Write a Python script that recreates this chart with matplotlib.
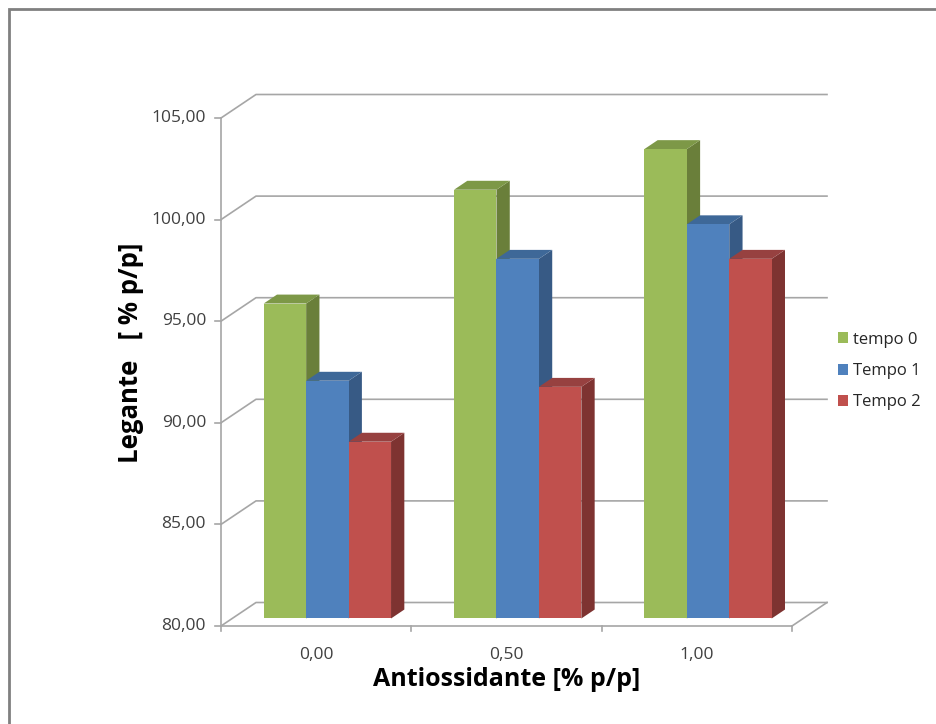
import numpy as np
import matplotlib.pyplot as plt
from matplotlib.patches import Polygon, Rectangle, Patch

plt.rcParams['font.family'] = ['Open Sans', 'DejaVu Sans']

# data
categories = ['0,00', '0,50', '1,00']
series_names = ['tempo 0', 'Tempo 1', 'Tempo 2']
tempo0 = [95.5, 101.1, 103.1]
tempo1 = [91.7, 97.7, 99.4]
tempo2 = [88.7, 91.4, 97.7]
y_ticks = [80, 85, 90, 95, 100, 105]

front = ['#9BBB59', '#4F81BD', '#C0504D']
top_c = ['#7D9847', '#3E6898', '#974140']
side_c = ['#6A7F3A', '#375A85', '#7E3331']
grid_c = '#A6A6A6'

W, H = 936, 724
fig = plt.figure(figsize=(W / 100, H / 100), dpi=100)
ax = fig.add_axes([0, 0, 1, 1])

# pixel layout of the front plane
x0_px, x3_px = 221, 792
y80_px, y105_px = H - 626, H - 118
sx = (x3_px - x0_px) / 3.0
sy = (y105_px - y80_px) / 25.0
ax.set_xlim(-x0_px / sx, (W - x0_px) / sx)
ax.set_ylim(80 - y80_px / sy, 80 + (H - y80_px) / sy)
ax.axis('off')

# oblique depth offset of the back wall (data units)
DX = 35 / sx
DY = 23.5 / sy
ymin = 80
n = len(categories)


def proj(x, v, d):
    return (x + d * DX, v + d * DY)


# back wall gridlines + left side wall
for v in y_ticks:
    ax.plot([0, DX, n + DX], [v, v + DY, v + DY], color=grid_c, lw=1.2, zorder=1)
# floor
ax.plot([0, n], [ymin, ymin], color=grid_c, lw=1.2, zorder=1)
ax.plot([n, n + DX], [ymin, ymin + DY], color=grid_c, lw=1.2, zorder=1)
# value axis
ax.plot([0, 0], [ymin, y_ticks[-1]], color=grid_c, lw=1.2, zorder=1)
for v in y_ticks:
    ax.plot([-6 / sx, 0], [v, v], color=grid_c, lw=1.2, zorder=1)
    ax.text(-15 / sx, v, f'{v:.2f}'.replace('.', ','), ha='right', va='center',
            fontsize=12.5, color='#404040')
for i in range(n + 1):
    ax.plot([i, i], [ymin, ymin - 5 / sy], color=grid_c, lw=1.2, zorder=1)
for i, c in enumerate(categories):
    ax.text(i + 0.5, ymin - 29 / sy, c, ha='center', va='center',
            fontsize=12.5, color='#404040')

# 3d bars
bar_w = 0.223
d0, d1 = 0.32, 0.70
series = [tempo0, tempo1, tempo2]
for i in range(n):
    left = i + 0.5 - 1.5 * bar_w
    for k, vals in enumerate(series):
        xl = left + k * bar_w
        xr = xl + bar_w
        v = vals[i]
        fr = [proj(xl, ymin, d0), proj(xr, ymin, d0), proj(xr, v, d0), proj(xl, v, d0)]
        tp = [proj(xl, v, d0), proj(xr, v, d0), proj(xr, v, d1), proj(xl, v, d1)]
        sd = [proj(xr, ymin, d0), proj(xr, ymin, d1), proj(xr, v, d1), proj(xr, v, d0)]
        z = 2 + k
        ax.add_patch(Polygon(sd, closed=True, fc=side_c[k], ec='none', zorder=z))
        ax.add_patch(Polygon(tp, closed=True, fc=top_c[k], ec='none', zorder=z))
        ax.add_patch(Polygon(fr, closed=True, fc=front[k], ec='none', zorder=z))

# legend
handles = [Patch(fc=front[k], ec='none', label=series_names[k]) for k in range(3)]
leg = ax.legend(handles=handles, loc='center left', bbox_to_anchor=(831 / W, 1 - 371 / H),
                bbox_transform=fig.transFigure, frameon=False, fontsize=12,
                handlelength=0.62, handleheight=0.62, handletextpad=0.3,
                labelspacing=0.92, borderaxespad=0)
for t in leg.get_texts():
    t.set_color('#262626')

# axis titles
fig.text(130 / W, 1 - 353 / H, 'Legante   [ % p/p]', rotation=90, ha='center',
         va='center', fontsize=18.5, fontweight='bold', color='black')
fig.text(507 / W, 1 - 679 / H, 'Antiossidante [% p/p]', ha='center', va='center',
         fontsize=18, fontweight='bold', color='black')

# chart area border
fig.patches.append(Rectangle((8.5 / W, -0.1), 1.2, 1.1 - 9.5 / H, transform=fig.transFigure,
                             fill=False, ec='#808080', lw=2))

fig.savefig('out.png', dpi=100)
